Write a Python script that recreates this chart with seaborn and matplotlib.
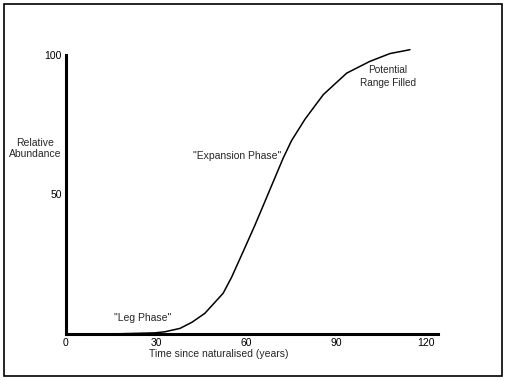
import matplotlib
matplotlib.use('Agg')
import matplotlib.pyplot as plt
import seaborn as sns

# curve
years = [14.7, 29.7, 33, 38, 42, 46.3, 52.4, 55.2, 59.1, 63, 66.3, 69.7, 72.4, 75.2,
         79.7, 85.8, 93.6, 101.3, 108, 114.7]
abundance = [0, 0.4, 0.8, 2.0, 4.2, 7.4, 14.6, 20.3, 29.6, 39.0, 47.4, 56.1, 63.0, 69.3,
             77.0, 85.8, 93.5, 97.7, 100.5, 101.9]

x_ticks = [0, 30, 60, 90, 120]
y_ticks = [50, 100]

sns.set_style('white')
plt.rcParams['font.family'] = ['Liberation Sans', 'DejaVu Sans']

fig = plt.figure(figsize=(5.06, 3.81), dpi=100)
ax = fig.add_axes([0.1304, 0.1234, 0.735, 0.7323])

sns.lineplot(x=years, y=abundance, color='black', linewidth=1.1, ax=ax)
for line in ax.lines:
    line.set_clip_on(False)

ax.set_xlim(0, 124)
ax.set_ylim(0, 100)
ax.set_xticks(x_ticks)
ax.set_xticklabels([str(t) for t in x_ticks])
ax.set_yticks(y_ticks)
ax.set_yticklabels([str(t) for t in y_ticks])
ax.tick_params(axis='both', length=0, labelsize=7.5, colors='black', pad=3)

for side in ['top', 'right']:
    ax.spines[side].set_visible(False)
for side in ['left', 'bottom']:
    ax.spines[side].set_linewidth(2.2)
    ax.spines[side].set_color('black')

ax.set_xlabel('Time since naturalised (years)', fontsize=7.5)
ax.xaxis.set_label_coords(0.41, -0.055)
ax.set_ylabel('Relative\nAbundance', fontsize=7.5, rotation=0, ha='center', va='center')
ax.yaxis.set_label_coords(-0.083, 0.665)

ax.text(25.5, 5.7, '"Leg Phase"', fontsize=7.5, ha='center', va='center')
ax.text(57.2, 63.8, '"Expansion Phase"', fontsize=7.5, ha='center', va='center')
ax.text(107.2, 92.3, 'Potential\nRange Filled', fontsize=7.2, ha='center', va='center',
        linespacing=1.3)

# frame round the whole picture
fig.patches.append(plt.Rectangle((4 / 506, 5 / 381), 498 / 506, 372 / 381, transform=fig.transFigure,
                                 fill=False, edgecolor='black', linewidth=1.2))

fig.savefig('out.png', dpi=100)
